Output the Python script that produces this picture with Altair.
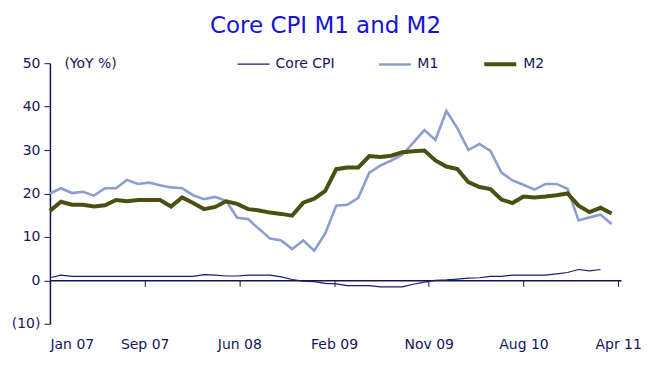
import altair as alt
import pandas as pd

# ---- data (monthly, Jan 07 .. Apr 11) ----
core_cpi = [0.6, 1.2, 0.9, 0.9, 0.9, 0.9, 0.9, 0.9, 0.9, 0.9, 0.9, 0.9, 0.9, 0.9,
            1.3, 1.2, 1.0, 1.0, 1.2, 1.2, 1.2, 0.8, 0.2, -0.2, -0.3, -0.7, -0.8,
            -1.2, -1.2, -1.2, -1.5, -1.5, -1.5, -0.9, -0.4, 0.0, 0.1, 0.3, 0.5,
            0.6, 0.9, 0.9, 1.2, 1.2, 1.2, 1.2, 1.5, 1.8, 2.5, 2.2, 2.5]
m1 = [20.0, 21.2, 20.1, 20.4, 19.5, 21.2, 21.2, 23.1, 22.2, 22.5,
      21.9, 21.4, 21.2, 19.6, 18.7, 19.2, 18.3, 14.4, 14.1, 11.8,
      9.6, 9.2, 7.2, 9.2, 6.8, 10.8, 17.2, 17.4, 19.0, 24.8,
      26.4, 27.6, 28.9, 31.7, 34.6, 32.3, 39.0, 35.0, 30.0, 31.4,
      29.8, 24.8, 23.0, 22.0, 20.9, 22.2, 22.2, 21.1, 13.8, 14.5,
      15.1, 13.0]
m2 = [16.0, 18.1, 17.4, 17.4, 17.0, 17.3, 18.5, 18.2, 18.5, 18.5,
      18.5, 17.0, 19.1, 17.8, 16.4, 16.9, 18.2, 17.6, 16.4, 16.1,
      15.6, 15.3, 14.9, 17.9, 18.8, 20.6, 25.6, 26.0, 26.0, 28.6,
      28.4, 28.7, 29.5, 29.7, 29.9, 27.6, 26.2, 25.6, 22.6, 21.5,
      21.0, 18.6, 17.8, 19.3, 19.1, 19.3, 19.6, 20.0, 17.2, 15.7,
      16.7, 15.4]

series_names = ["Core CPI", "M1", "M2"]
series_colors = ["#1c1c6a", "#8c9ed0", "#4b4f12"]
series_widths = [1.2, 4, 4]

y_ticks = [-10, 0, 10, 20, 30, 40, 50]
x_tick_labels = ["Jan 07", "Sep 07", "Jun 08", "Feb 09", "Nov 09", "Aug 10", "Apr 11"]
x_tick_step = 8.6
x_tick_pos = [i * x_tick_step for i in range(len(x_tick_labels))]

rows = []
for name, vals in zip(series_names, [core_cpi, m1, m2]):
    for i, v in enumerate(vals):
        rows.append({"month": i, "value": v, "series": name})
df = pd.DataFrame(rows)

navy = "#14145a"
font = "DejaVu Sans"
fs = 14
W, H = 572, 261
ymin, ymax = -10, 50
zero_offset = -H * (0 - ymin) / (ymax - ymin)

label_arr = "[" + ",".join("'%s'" % s for s in x_tick_labels) + "]"
x_label_expr = label_arr + "[round(datum.value / %s)]" % x_tick_step

xscale = alt.Scale(domain=[0, 51.86], nice=False, zero=False)

legend_kw = dict(orient="none", legendX=187, legendY=-17, direction="horizontal",
                 title=None, symbolType="stroke", symbolSize=1024, labelFont=font,
                 labelFontSize=fs, labelColor=navy, columnPadding=38, labelOffset=5)

lines = alt.Chart(df).mark_line(strokeCap="butt").encode(
    x=alt.X("month:Q", scale=xscale,
            axis=alt.Axis(orient="bottom", values=x_tick_pos, labels=False, domain=True,
                          ticks=True, tickSize=6, offset=zero_offset, grid=False,
                          title=None, domainColor=navy, tickColor=navy, domainWidth=1.5)),
    y=alt.Y("value:Q", scale=alt.Scale(domain=[ymin, ymax], nice=False, zero=False),
            axis=alt.Axis(values=y_ticks, grid=False,
                          labelExpr="datum.value < 0 ? '(' + abs(datum.value) + ')' : datum.value",
                          title="(YoY %)", titleAngle=0, titleX=14, titleY=0,
                          titleAlign="left", titleBaseline="middle",
                          titleFont=font, titleFontSize=fs, titleFontWeight="normal",
                          titleColor=navy, labelFont=font, labelFontSize=fs,
                          labelColor=navy, tickSize=6, labelPadding=4,
                          domainColor=navy, tickColor=navy, domainWidth=1.5)),
    color=alt.Color("series:N", scale=alt.Scale(domain=series_names, range=series_colors),
                    legend=alt.Legend(**legend_kw)),
    strokeWidth=alt.StrokeWidth("series:N",
                                scale=alt.Scale(domain=series_names, range=series_widths),
                                legend=alt.Legend(**legend_kw)),
)

labels_layer = alt.Chart(df).mark_point(opacity=0).encode(
    x=alt.X("month:Q", scale=xscale,
            axis=alt.Axis(orient="bottom", values=x_tick_pos, labelExpr=x_label_expr,
                          domain=False, ticks=False, grid=False, title=None,
                          labelPadding=14, labelFont=font, labelFontSize=fs,
                          labelColor=navy)),
)

chart = alt.layer(lines, labels_layer).resolve_axis(x="independent").properties(
    width=W, height=H,
    autosize="none",
    padding={"left": 42, "top": 55, "right": 30, "bottom": 30},
    title=alt.TitleParams("Core CPI M1 and M2", font=font, fontSize=23,
                          fontWeight="normal", color="#1414d2", anchor="middle",
                          dx=-10, offset=8),
).configure_view(stroke=None)

chart.save("out.html", embed_options={"renderer": "svg", "actions": False})
